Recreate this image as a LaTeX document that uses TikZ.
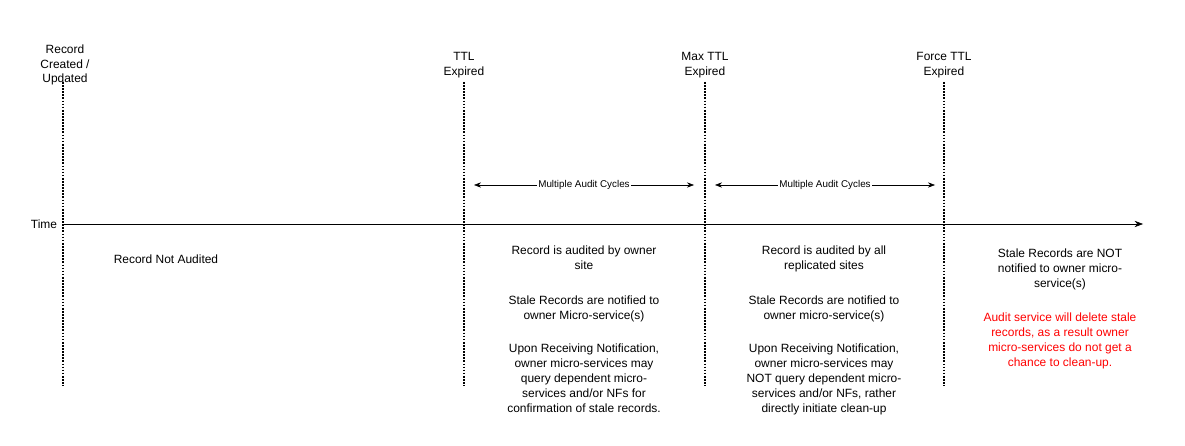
\documentclass[tikz,border=0pt]{standalone}
\usepackage{fontspec}
\setmainfont{Liberation Sans}
\usetikzlibrary{arrows.meta,positioning}
\definecolor{auditred}{HTML}{FF0000}

\tikzset{
  txt/.style={font=\fontsize{8.5}{10.6}\selectfont, align=center, inner sep=0pt},
  cyc/.style={font=\fontsize{7}{8}\selectfont, fill=white, inner sep=1pt},
  mark line/.style={densely dotted, line width=1.2pt},
}

\begin{document}
\begin{tikzpicture}[x=0.025cm, y=-0.025cm]
  \useasboundingbox (0,0) rectangle (1185,446);
  % milestones
  \node[txt] (created) at (65,65) {Record\\Created /\\Updated};
  \node[txt] (ttl) at (464,65) {TTL\\Expired};
  \node[txt] (maxttl) at (705,65) {Max TTL\\Expired};
  \node[txt] (forcettl) at (944,65) {Force TTL\\Expired};
  \foreach \x in {63, 464, 705, 944}
    \draw[mark line] (\x,82) -- (\x,386);
  % time axis
  \node[txt] (time) at (44,224) {Time};
  \coordinate (tstart) at (63,224);
  \coordinate (tend) at (1143,224);
  \draw[-{Stealth[length=6pt]}] (tstart) -- (tend);
  % audit cycles
  \coordinate (c1a) at (474,185);
  \coordinate (c1b) at (694,185);
  \coordinate (c2a) at (715,185);
  \coordinate (c2b) at (935,185);
  \draw[{Stealth[length=5pt]}-{Stealth[length=5pt]}] (c1a) -- (c1b)
    node[cyc, midway] (cyc1) {Multiple Audit Cycles};
  \draw[{Stealth[length=5pt]}-{Stealth[length=5pt]}] (c2a) -- (c2b)
    node[cyc, midway] (cyc2) {Multiple Audit Cycles};
  % phases
  \node[txt] (notaudited) at (166,259) {Record Not Audited};
  \node[txt, anchor=north] (owner1) at (584,246) {Record is audited by owner\\site};
  \node[txt, anchor=north] (owner2) at (584,296) {Stale Records are notified to\\owner Micro-service(s)};
  \node[txt, anchor=north] (owner3) at (584,344) {Upon Receiving Notification,\\owner micro-services may\\query dependent micro-\\services and/or NFs for\\confirmation of stale records.};
  \node[txt, anchor=north] (all1) at (824,246) {Record is audited by all\\replicated sites};
  \node[txt, anchor=north] (all2) at (824,296) {Stale Records are notified to\\owner micro-service(s)};
  \node[txt, anchor=north] (all3) at (824,344) {Upon Receiving Notification,\\owner micro-services may\\NOT query dependent micro-\\services and/or NFs, rather\\directly initiate clean-up};
  \node[txt, anchor=north] (force1) at (1060,249) {Stale Records are NOT\\notified to owner micro-\\service(s)};
  \node[txt, anchor=north, text=auditred] (force2) at (1060,313) {Audit service will delete stale\\records, as a result owner\\micro-services do not get a\\chance to clean-up.};
\end{tikzpicture}
\end{document}
